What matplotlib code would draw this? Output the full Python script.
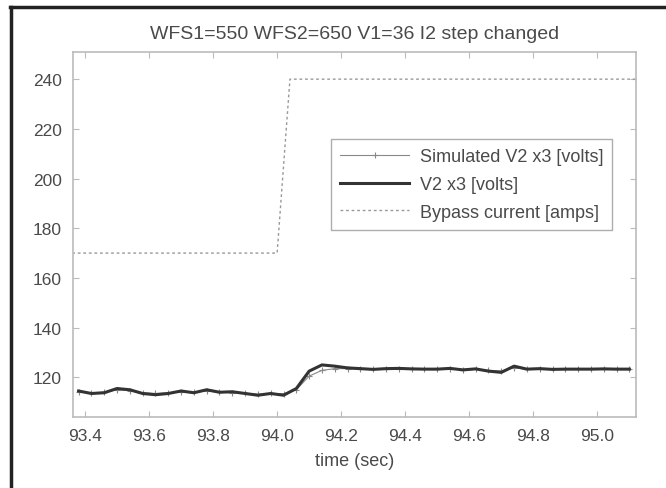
import numpy as np
import matplotlib
matplotlib.use("Agg")
import matplotlib.pyplot as plt
from matplotlib.lines import Line2D

plt.rcParams['font.family'] = ['Liberation Sans', 'DejaVu Sans']

# sample times (sec)
t = [93.38, 93.42, 93.46, 93.50, 93.54, 93.58, 93.62, 93.66, 93.70, 93.74,
     93.78, 93.82, 93.86, 93.90, 93.94, 93.98, 94.02, 94.06, 94.10, 94.14,
     94.18, 94.22, 94.26, 94.30, 94.34, 94.38, 94.42, 94.46, 94.50, 94.54,
     94.58, 94.62, 94.66, 94.70, 94.74, 94.78, 94.82, 94.86, 94.90, 94.94,
     94.98, 95.02, 95.06, 95.10]

# measured V2 x3
v2 = [114.5, 113.5, 113.8, 115.5, 115.0, 113.5, 113.0, 113.5, 114.5, 113.8,
      115.0, 114.0, 114.2, 113.5, 112.8, 113.5, 112.8, 115.5, 122.5, 125.0,
      124.5, 123.8, 123.5, 123.2, 123.5, 123.6, 123.4, 123.3, 123.3, 123.6,
      123.0, 123.4, 122.5, 122.0, 124.5, 123.3, 123.5, 123.2, 123.3, 123.3,
      123.3, 123.4, 123.3, 123.3]

# simulated V2 x3
v2_sim = [114.0, 113.8, 114.0, 115.0, 114.6, 113.8, 113.5, 113.8, 114.2, 114.0,
          114.5, 114.0, 113.8, 113.6, 113.2, 113.5, 113.4, 115.0, 120.5, 122.8,
          123.5, 123.5, 123.3, 123.2, 123.4, 123.5, 123.3, 123.3, 123.2, 123.5,
          123.1, 123.2, 122.8, 122.6, 123.8, 123.3, 123.4, 123.2, 123.3, 123.3,
          123.3, 123.3, 123.3, 123.3]

# bypass current step
t_bp = [93.36, 94.00, 94.04, 95.12]
i_bp = [170, 170, 240, 240]

txt = '#4a4a4a'

fig = plt.figure(figsize=(6.66, 4.89), dpi=100)
ax = fig.add_axes([0.1096, 0.145, 0.845, 0.747])

ax.plot(t, v2_sim, color='#888888', lw=0.8, marker='+', ms=5, mew=0.8,
        label='Simulated V2 x3 [volts]')
ax.plot(t, v2, color='#333333', lw=2.2, label='V2 x3 [volts]')
ax.plot(t_bp, i_bp, color='#999999', lw=1.0, ls=(0, (2, 2)),
        label='Bypass current [amps]')

ax.set_xlim(93.3625, 95.12)
ax.set_ylim(104, 251)
ax.set_xticks([93.4, 93.6, 93.8, 94.0, 94.2, 94.4, 94.6, 94.8, 95.0])
ax.set_xticklabels(['93.4', '93.6', '93.8', '94.0', '94.2', '94.4', '94.6', '94.8', '95.0'])
ax.set_yticks([120, 140, 160, 180, 200, 220, 240])

for s in ax.spines.values():
    s.set_color('#bbbbbb')
    s.set_linewidth(1.2)
ax.tick_params(direction='in', top=True, right=True, length=4, color='#bbbbbb',
               labelsize=12.5, labelcolor=txt, pad=8)

ax.set_title('WFS1=550 WFS2=650 V1=36 I2 step changed', fontsize=14,
             color=txt, pad=10)
ax.set_xlabel('time (sec)', fontsize=13, color=txt, labelpad=6)

leg = ax.legend(loc='upper left', bbox_to_anchor=(0.443, 0.786), fontsize=13,
                frameon=True, fancybox=False, handlelength=3.8,
                borderpad=0.5, labelspacing=0.6, handletextpad=0.6,
                labelcolor=txt)
leg.get_frame().set_edgecolor('#999999')
leg.get_frame().set_linewidth(1.0)

# outer frame (top and left edges)
fig.add_artist(Line2D([10 / 666, 1.0], [1 - 8 / 489, 1 - 8 / 489],
                      transform=fig.transFigure, color='#222222', lw=2.5))
fig.add_artist(Line2D([11 / 666, 11 / 666], [0.0, 1 - 8 / 489],
                      transform=fig.transFigure, color='#222222', lw=2.5))

fig.savefig('out.png', dpi=100)
